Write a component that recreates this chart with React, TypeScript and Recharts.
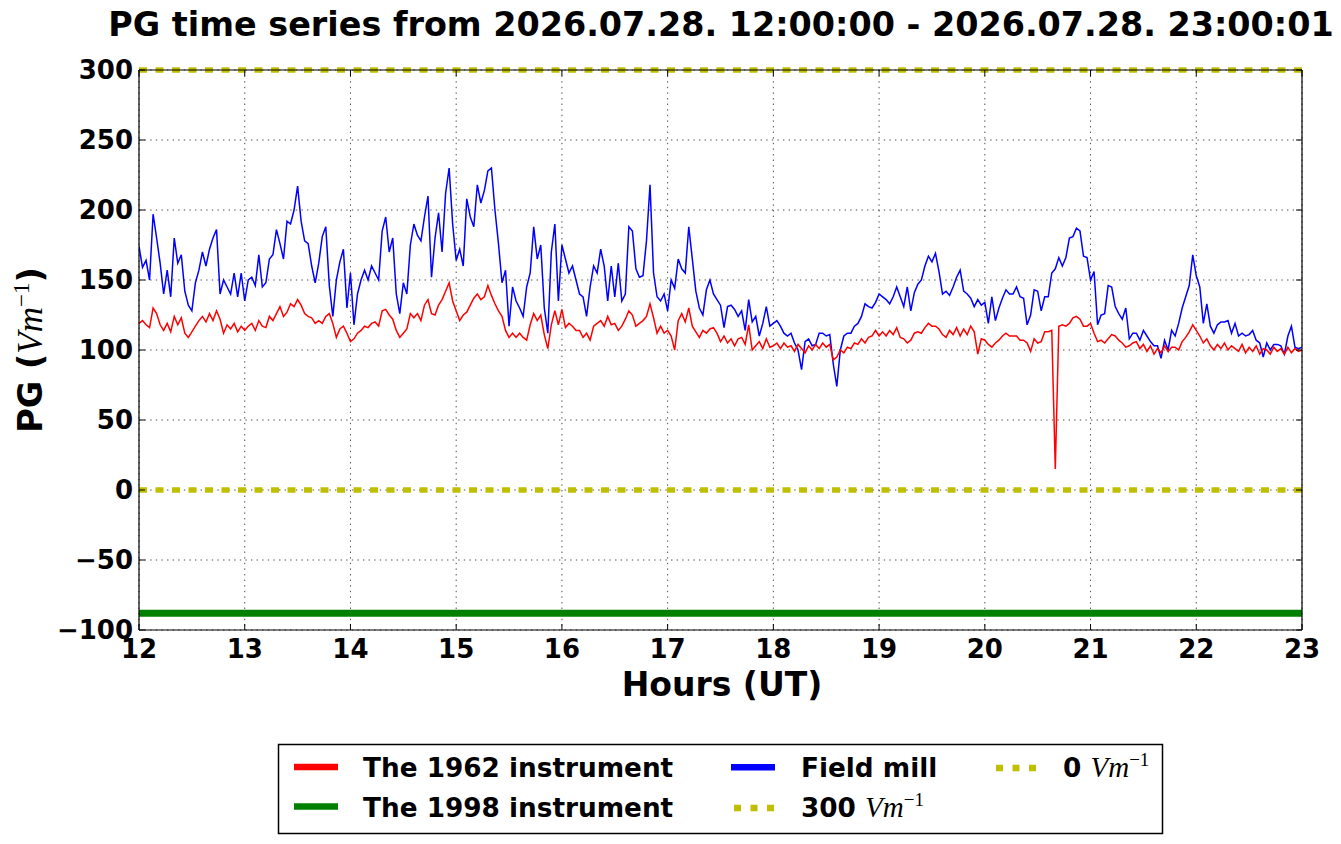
import React from 'react';
import { LineChart, Line, XAxis, YAxis, CartesianGrid, ReferenceLine } from 'recharts';

// Sampling: one value every 2 minutes from 12:00 to 23:00 UT
const START_HOUR = 12;
const STEP_HOURS = 1 / 30;

// The 1962 instrument (red), Vm^-1
const instrument1962: number[] = [
  119, 121, 118, 116, 130, 126, 118, 114, 119, 113,
  124, 118, 123, 112, 109, 113, 117, 121, 124, 120,
  126, 121, 128, 122, 112, 118, 115, 119, 113, 117,
  114, 117, 119, 114, 121, 117, 116, 124, 121, 126,
  131, 124, 127, 133, 131, 136, 132, 126, 124, 123,
  119, 121, 119, 124, 126, 119, 109, 115,
  117, 112, 106, 108, 112, 114, 117, 116, 119, 120,
  117, 128, 129, 125, 122, 114, 109, 112, 115, 126,
  123, 126, 121, 132, 136, 126, 125, 132, 136, 142,
  148, 135, 128, 121, 125, 127, 132, 137, 140, 136,
  138, 146, 139, 133, 128, 124, 114, 109, 112, 109,
  112, 109, 107,
  118, 126, 121, 125, 111, 101, 118, 128, 118, 129,
  116, 119, 117, 114, 114, 109, 112, 107, 117, 119,
  121, 117, 124, 118, 119, 114, 117, 122, 128, 125,
  117, 119, 121, 124, 133, 123, 112, 117, 112, 114,
  110, 100, 121, 126, 120, 130, 117, 113, 109, 114,
  112, 115, 116, 112,
  106, 110, 105, 108, 103, 108, 109, 104, 118, 100,
  103, 106, 101, 108, 102, 103, 105, 101, 105, 102,
  103, 99, 104, 101, 98, 103, 100, 104, 101, 105,
  102, 104, 93, 95, 100, 98, 102, 101, 105, 104,
  108, 105, 109, 110, 114, 110, 113, 110, 114, 111,
  116, 109, 108, 105,
  107, 112, 113, 112, 116, 119, 117, 117, 115, 111,
  109, 114, 111, 116, 110, 115, 111, 117, 113, 97,
  108, 107, 104, 102, 105, 107, 110, 112, 110, 110,
  110, 107, 107, 105, 99, 108, 105, 106, 113, 113,
  114, 15, 117, 118, 117, 119, 123, 124, 122, 117,
  117, 119, 112, 106,
  107, 105, 108, 111, 110, 107, 105, 102, 103, 105,
  106, 101, 104, 99, 103, 97, 101, 98, 103, 99,
  102, 102, 100, 106, 109, 113, 118, 114, 110, 105,
  108, 103, 100, 104, 101, 105, 100, 103, 101, 99,
  104, 98, 102, 99, 103, 97, 101, 100, 97, 102,
  99, 101, 97, 102, 98, 101, 99, 100,
];

// Field mill (blue), Vm^-1
const fieldMill: number[] = [
  174, 159, 164, 150, 197, 180, 162, 140, 157, 138,
  180, 162, 168, 142, 132, 128, 148, 157, 170, 160,
  172, 180, 186, 140, 150, 145, 140, 155, 138, 155,
  135, 150, 152, 146, 168, 145, 148, 165, 168, 186,
  176, 165, 192, 190, 200, 217, 192, 178, 176, 160,
  148, 162, 181, 188, 146, 124, 150, 163,
  172, 130, 155, 118, 140, 150, 157, 150, 160, 155,
  150, 185, 195, 170, 180, 140, 126, 148, 140, 175,
  190, 182, 178, 195, 210, 152, 180, 198, 170, 212,
  230, 190, 164, 172, 160, 208, 195, 188, 218, 205,
  214, 228, 230, 200, 176, 148, 157, 117, 145, 135,
  130, 124, 145,
  155, 188, 165, 175, 130, 112, 170, 190, 135, 175,
  165, 155, 160, 150, 140, 138, 124, 145, 160, 155,
  172, 160, 135, 160, 138, 162, 135, 140, 188, 185,
  158, 152, 153, 178, 218, 155, 138, 135, 140, 128,
  150, 144, 165, 158, 155, 188, 165, 142, 130, 125,
  143, 150, 140, 136,
  132, 116, 131, 132, 129, 124, 128, 114, 136, 120,
  124, 110, 119, 131, 117, 119, 121, 117, 112, 110,
  112, 105, 100, 86, 106, 108, 103, 104, 112, 112,
  110, 111, 90, 74, 100, 110, 112, 112, 117, 119,
  124, 133, 131, 130, 134, 140, 138, 136, 133, 138,
  145, 138, 131, 145,
  128, 141, 147, 150, 160, 167, 163, 169, 156, 140,
  142, 139, 145, 152, 157, 142, 140, 137, 131, 136,
  132, 134, 119, 138, 121, 130, 137, 143, 140, 140,
  145, 138, 137, 118, 125, 143, 142, 128, 138, 138,
  155, 158, 166, 160, 166, 180, 181, 187, 185, 167,
  166, 150, 156, 118,
  125, 126, 146, 145, 131, 126, 122, 130, 108, 112,
  112, 107, 114, 110, 106, 103, 103, 94, 107, 100,
  114, 110, 119, 130, 138, 146, 168, 153, 145, 119,
  133, 117, 112, 118, 120, 120, 121, 112, 119, 110,
  112, 110, 111, 114, 107, 105, 95, 105, 100, 104,
  104, 103, 97, 110, 117, 102, 101, 102,
];

// The 1998 instrument (green) is flat at this level
const instrument1998Level = -88;
const level300 = 300;
const level0 = 0;

const xTicks = [12, 13, 14, 15, 16, 17, 18, 19, 20, 21, 22, 23];
const yTicks = [-100, -50, 0, 50, 100, 150, 200, 250, 300];

const data = instrument1962.map((v, i) => ({
  t: START_HOUR + i * STEP_HOURS,
  red: v,
  blue: fieldMill[i],
}));

const SANS = 'DejaVu Sans';
const MATH = 'Liberation Serif';
const YEL = '#bfbf00';

const tickStyle = { fill: '#000', fontSize: 26, fontWeight: 'bold', fontFamily: SANS } as any;
const fmtY = (v: number) => (v < 0 ? '\u2212' + Math.abs(v) : String(v));
const noTick = () => <g />;

export default function App() {
  return (
    <div style={{ position: 'absolute', left: 0, top: 0, width: 1341, height: 844, background: '#fff' }}>
      <LineChart
        width={1341}
        height={844}
        data={data}
        margin={{ top: 60, right: 29, bottom: 174, left: 79 }}
      >
        <CartesianGrid stroke="#000" strokeWidth={0.7} strokeDasharray="1.4 4.2" />
        <XAxis
          dataKey="t"
          type="number"
          domain={[12, 23]}
          ticks={xTicks}
          interval={0}
          height={40}
          tickSize={-6}
          tickMargin={15.5}
          axisLine={{ stroke: '#000', strokeWidth: 1.2 }}
          tickLine={{ stroke: '#000', strokeWidth: 1 }}
          tick={tickStyle}
          allowDataOverflow
        />
        <XAxis
          xAxisId="top"
          orientation="top"
          dataKey="t"
          type="number"
          domain={[12, 23]}
          ticks={xTicks}
          interval={0}
          height={10}
          tickSize={-6}
          axisLine={{ stroke: '#000', strokeWidth: 1.2 }}
          tickLine={{ stroke: '#000', strokeWidth: 1 }}
          tick={noTick}
          allowDataOverflow
        />
        <YAxis
          type="number"
          domain={[-100, 300]}
          ticks={yTicks}
          interval={0}
          width={60}
          tickSize={-6}
          tickMargin={12}
          tickFormatter={fmtY}
          axisLine={{ stroke: '#000', strokeWidth: 1.2 }}
          tickLine={{ stroke: '#000', strokeWidth: 1 }}
          tick={tickStyle}
          allowDataOverflow
        />
        <YAxis
          yAxisId="right"
          orientation="right"
          dataKey="red"
          type="number"
          domain={[-100, 300]}
          ticks={yTicks}
          interval={0}
          width={10}
          tickSize={-6}
          axisLine={{ stroke: '#000', strokeWidth: 1.2 }}
          tickLine={{ stroke: '#000', strokeWidth: 1 }}
          tick={noTick}
          allowDataOverflow
        />
        <ReferenceLine y={instrument1998Level} stroke="#008000" strokeWidth={7} />
        <Line
          dataKey="blue"
          stroke="#0000ff"
          strokeWidth={1.5}
          dot={false}
          activeDot={false}
          isAnimationActive={false}
        />
        <Line
          dataKey="red"
          stroke="#ff0000"
          strokeWidth={1.5}
          dot={false}
          activeDot={false}
          isAnimationActive={false}
        />
        <ReferenceLine y={level300} stroke={YEL} strokeWidth={5.5} strokeDasharray="8 8.5" />
        <ReferenceLine y={level0} stroke={YEL} strokeWidth={5.5} strokeDasharray="8 8.5" />
      </LineChart>

      <svg
        width={1341}
        height={844}
        style={{ position: 'absolute', left: 0, top: 0, pointerEvents: 'none' }}
      >
        <text x={721} y={36} textAnchor="middle" fontFamily={SANS} fontWeight="bold" fontSize={33.4} fill="#000">
          PG time series from 2026.07.28. 12:00:00 - 2026.07.28. 23:00:01
        </text>
        <text x={722} y={696} textAnchor="middle" fontFamily={SANS} fontWeight="bold" fontSize={33} fill="#000">
          Hours (UT)
        </text>
        <text
          transform="translate(42,350) rotate(-90)"
          textAnchor="middle"
          fontFamily={SANS}
          fontWeight="bold"
          fontSize={33.5}
          fill="#000"
        >
          PG (
          <tspan fontFamily={MATH} fontStyle="italic" fontWeight="normal" fontSize={35}>Vm</tspan>
          <tspan fontFamily={MATH} fontWeight="normal" fontSize={23} dy={-13}>{'\u22121'}</tspan>
          <tspan dy={13}>)</tspan>
        </text>

        <rect x={278.5} y={744.5} width={884} height={89} fill="#fff" stroke="#000" strokeWidth={1.5} />
        <line x1={294} y1={767} x2={338} y2={767} stroke="#ff0000" strokeWidth={6.5} />
        <line x1={294} y1={806.5} x2={338} y2={806.5} stroke="#008000" strokeWidth={6.5} />
        <line x1={731} y1={767.3} x2={775} y2={767.3} stroke="#0000ff" strokeWidth={6.5} />
        <line x1={734} y1={808} x2={775} y2={808} stroke={YEL} strokeWidth={6.5} strokeDasharray="7 9.5" />
        <line x1={996} y1={768} x2={1037} y2={768} stroke={YEL} strokeWidth={6.5} strokeDasharray="7 9.5" />

        <text x={363} y={777} fontFamily={SANS} fontWeight="bold" fontSize={26.3} fill="#000">The 1962 instrument</text>
        <text x={363} y={817} fontFamily={SANS} fontWeight="bold" fontSize={26.3} fill="#000">The 1998 instrument</text>
        <text x={801} y={777} fontFamily={SANS} fontWeight="bold" fontSize={26.3} fill="#000">Field mill</text>
        <text x={801} y={817} fontFamily={SANS} fontWeight="bold" fontSize={26.3} fill="#000">
          300{' '}
          <tspan fontFamily={MATH} fontStyle="italic" fontWeight="normal" fontSize={29}>Vm</tspan>
          <tspan fontFamily={MATH} fontWeight="normal" fontSize={19} dy={-11}>{'\u22121'}</tspan>
        </text>
        <text x={1063} y={777} fontFamily={SANS} fontWeight="bold" fontSize={26.3} fill="#000">
          0{' '}
          <tspan fontFamily={MATH} fontStyle="italic" fontWeight="normal" fontSize={29}>Vm</tspan>
          <tspan fontFamily={MATH} fontWeight="normal" fontSize={19} dy={-11}>{'\u22121'}</tspan>
        </text>
      </svg>
    </div>
  );
}
